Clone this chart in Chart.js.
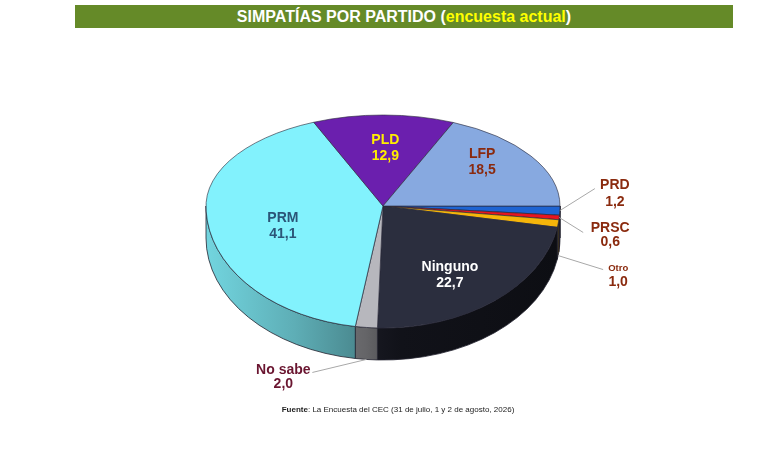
<!DOCTYPE html>
<html><head><meta charset="utf-8">
<script src="https://cdn.jsdelivr.net/npm/chart.js@4"></script>
<style>
html,body{margin:0;padding:0;background:#fff;width:780px;height:470px;overflow:hidden;font-family:"Liberation Sans",Arial,sans-serif}
#wrap{position:relative;width:780px;height:470px}
#title{position:absolute;left:75px;top:5px;width:658px;height:23px;background:#658a28;color:#fff;font-weight:bold;font-size:16px;line-height:23px;text-align:center}
#title span{color:#ffff00}
#src{position:absolute;left:0;width:796px;top:405px;text-align:center;font-size:8px;color:#222}
canvas{position:absolute;left:0;top:0}
</style></head><body>
<div id="wrap"><canvas id="c" width="780" height="470"></canvas>
<div id="title">SIMPATÍAS POR PARTIDO (<span>encuesta actual</span>)</div>
<div id="src"><b>Fuente</b>: La Encuesta del CEC (31 de julio, 1 y 2 de agosto, 2026)</div></div>
<script>
const categories = ['PRD','PRSC','Otro','Ninguno','No sabe','PRM','PLD','LFP'];
const values = [1.2, 0.6, 1.0, 22.7, 2.0, 41.1, 12.9, 18.5];
const colors = ['#1e64d2','#e8141e','#f5b50a','#2b2e3e','#b7b7bd','#82f2fd','#6b1fae','#87a9e0'];

// layout / style (not data)
const geom = {cx:383, cy:206, rx:177, ryBack:91, ryFront:122, depth:32};
const sideStops = [[0,0.88],[0.25,0.72],[0.45,0.55],[0.55,0.4],[1,0.3]];
const labelStyle = {
  PRM:{color:'#2b5578', f:0.57, dx:0, dy:12, gap:16},
  PLD:{color:'#ffee00', f:0.64, dx:2, dy:0, gap:16},
  LFP:{color:'#8a2a0e', f:0.67, dx:0, dy:-10, gap:16},
  Ninguno:{color:'#ffffff', f:0.6, dx:0, dy:12, gap:16},
  PRD:{color:'#8a2a0e', out:true, side:0, lx:35, ly:-22, tx:55, ty:-17, gap:17},
  PRSC:{color:'#8a2a0e', out:true, side:0, lx:24, ly:15, tx:51, ty:17.5, gap:14},
  Otro:{color:'#8a2a0e', out:true, side:1, lx:45, ly:14, tx:60, ty:20, gap:14, small:true},
  'No sabe':{color:'#6a1530', out:true, side:1, lx:-54, ly:13, tx:-83, ty:17.5, gap:14}
};

function hexToRgb(h){h=h.replace('#','');return [0,2,4].map(i=>parseInt(h.substr(i,2),16));}
function fmt(v){return v.toFixed(1).replace('.',',');}

const pie3d = {
  id:'pie3d',
  beforeDatasetsDraw(chart){
    const ctx = chart.ctx, meta = chart.getDatasetMeta(0);
    const {cx,cy,rx,ryBack,ryFront,depth} = geom;
    const TAU = Math.PI*2;
    // side walls
    meta.data.forEach((arc,i)=>{
      const p = arc.getProps(['startAngle','endAngle'], true);
      const s = ((p.startAngle % TAU)+TAU)%TAU;
      const e = s + (p.endAngle - p.startAngle);
      [[0,Math.PI],[TAU,TAU+Math.PI]].forEach(([lo,hi])=>{
        const a = Math.max(s,lo), b = Math.min(e,hi);
        if (b <= a) return;
        ctx.beginPath();
        ctx.ellipse(cx,cy,rx,ryFront,0,a,b,false);
        ctx.lineTo(cx+rx*Math.cos(b), cy+depth+ryFront*Math.sin(b));
        ctx.ellipse(cx,cy+depth,rx,ryFront,0,b,a,true);
        ctx.closePath();
        const g = ctx.createLinearGradient(cx-rx,0,cx+rx,0);
        const rgb = hexToRgb(colors[i]);
        sideStops.forEach(([t,k])=>g.addColorStop(t,`rgb(${rgb.map(c=>Math.round(c*k)).join(',')})`));
        ctx.fillStyle = g; ctx.fill();
        ctx.lineWidth = 0.8; ctx.strokeStyle = '#22222e'; ctx.stroke();
      });
    });
    // top surface drawn by the library's arc elements, with perspective halves
    const a0 = meta.data[0];
    const x0 = a0.x, y0 = a0.y, R = a0.outerRadius;
    [[ryBack,0,cy],[ryFront,cy,chart.height]].forEach(([ry,top,bot])=>{
      ctx.save();
      ctx.beginPath(); ctx.rect(0,top,chart.width,bot-top); ctx.clip();
      ctx.translate(cx,cy); ctx.scale(rx/R, ry/R); ctx.translate(-x0,-y0);
      meta.data.forEach(a=>a.draw(ctx));
      ctx.restore();
    });
    return false;
  },
  afterDraw(chart){
    const ctx = chart.ctx, meta = chart.getDatasetMeta(0);
    const {cx,cy,rx,ryBack,ryFront,depth} = geom;
    ctx.save();
    ctx.textAlign = 'center'; ctx.textBaseline = 'middle';
    meta.data.forEach((arc,i)=>{
      const name = categories[i], st = labelStyle[name];
      const p = arc.getProps(['startAngle','endAngle'], true);
      const m = (p.startAngle + p.endAngle)/2;
      const ry = Math.sin(m) > 0 ? ryFront : ryBack;
      const big = 'bold 14px "Liberation Sans", Arial, sans-serif';
      ctx.fillStyle = st.color;
      if (!st.out){
        const x = cx + rx*st.f*Math.cos(m) + st.dx;
        const y = cy + ry*st.f*Math.sin(m) + st.dy;
        ctx.font = big;
        ctx.fillText(name, x, y - st.gap/2);
        ctx.fillText(fmt(values[i]), x, y + st.gap/2);
      } else {
        const ax = cx + rx*Math.cos(m);
        const ay = cy + ry*Math.sin(m) + (st.side ? depth : 0);
        ctx.beginPath(); ctx.moveTo(ax,ay); ctx.lineTo(ax+st.lx, ay+st.ly);
        ctx.strokeStyle = '#a8a8a8'; ctx.lineWidth = 1; ctx.stroke();
        const x = ax + st.tx, y = ay + st.ty;
        ctx.font = st.small ? 'bold 9.5px "Liberation Sans", Arial, sans-serif' : big;
        ctx.fillText(name, x, y - st.gap/2);
        ctx.font = big;
        ctx.fillText(fmt(values[i]), x, y + st.gap/2);
      }
    });
    ctx.restore();
  }
};

new Chart(document.getElementById('c'), {
  type:'pie',
  data:{labels:categories, datasets:[{data:values, backgroundColor:colors, borderColor:'#2a2a3a', borderWidth:0.9, clip:false}]},
  options:{
    responsive:false, animation:false, events:[], rotation:90,
    layout:{padding:40},
    plugins:{legend:{display:false}, tooltip:{enabled:false}, title:{display:false}}
  },
  plugins:[pie3d]
});
</script>
</body></html>
